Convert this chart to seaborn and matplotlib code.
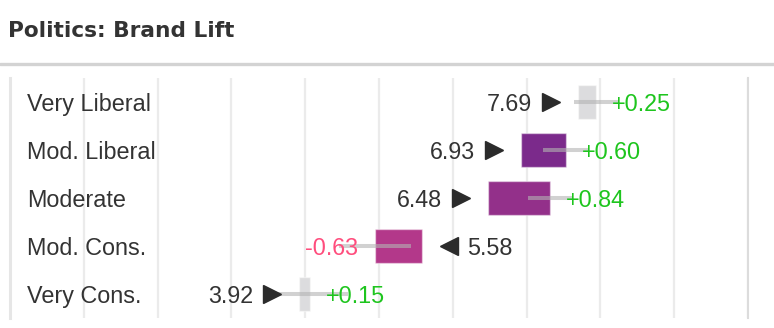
import numpy as np
import pandas as pd
import matplotlib
matplotlib.use("Agg")
import matplotlib.pyplot as plt
from matplotlib.lines import Line2D
from matplotlib.transforms import offset_copy
import seaborn as sns

# ---- data ----
categories = ["Very Liberal", "Mod. Liberal", "Moderate", "Mod. Cons.", "Very Cons."]
base_values = [7.69, 6.93, 6.48, 5.58, 3.92]
lift_values = [0.25, 0.60, 0.84, -0.63, 0.15]
error_values = [0.30, 0.31, 0.30, 0.49, 0.51]
bar_colors = ["#dcdcde", "#7b2a8b", "#93308a", "#b3388a", "#dcdcde"]
title = "Politics: Brand Lift"

sns.set_style("white")
plt.rcParams["font.family"] = ["Liberation Sans", "DejaVu Sans"]

W, H = 774, 328
fig = plt.figure(figsize=(W / 100, H / 100), dpi=100)
ax = fig.add_axes([10 / W, 10 / H, 738 / W, 240 / H])

base = np.array(base_values)
lift = np.array(lift_values)
err = np.array(error_values)
new = base + lift
starts = np.minimum(base, new)

df = pd.DataFrame({"category": categories, "size": np.abs(lift)})
sns.barplot(data=df, x="size", y="category", orient="y", order=categories,
            width=0.72, errorbar=None, ax=ax, left=starts, color="#888888",
            saturation=1, linewidth=1.0, edgecolor=(1, 1, 1, 0.45), zorder=2)
for patch, c in zip(ax.patches, bar_colors):
    patch.set_facecolor(c)

ypos = np.arange(len(categories))

# confidence lines
ax.hlines(ypos, new - err, new + err, color="#b3b3b3", alpha=0.6, lw=2.9, zorder=3)

dark = "#2b2b2b"
txt = "#333333"
fs = 16.8
for y, b, l, nv in zip(ypos, base, lift, new):
    up = l >= 0
    m = ">" if up else "<"
    tr = offset_copy(ax.transData, fig=fig, x=(-27 if up else 27), y=0, units="dots")
    ax.plot([b], [y], marker=m, markersize=12.3, color=dark, transform=tr,
            linestyle="none", zorder=4)
    ax.annotate(f"{b:.2f}", xy=(b, y), xytext=((-46 if up else 45), 0),
                textcoords="offset pixels", ha=("right" if up else "left"),
                va="center_baseline", fontsize=fs, color=txt, zorder=5)
    ax.annotate(f"{l:+.2f}", xy=(nv, y), xytext=((16 if up else -17), 0),
                textcoords="offset pixels", ha=("left" if up else "right"),
                va="center_baseline", fontsize=fs,
                color=("#1ec51e" if up else "#ff4d7d"), zorder=5)

ax.set_xlim(0, 10)
ax.set_ylim(len(categories) - 0.5, -0.5)
ax.set_xticks(range(0, 11))
ax.set_xticklabels([])
ax.tick_params(axis="x", length=0)
ax.grid(axis="x", color="#ebebeb", lw=1.6, zorder=0)
ax.set_axisbelow(True)
ax.set_xlabel("")
ax.set_ylabel("")

ax.tick_params(axis="y", length=0, pad=-12.3, labelsize=fs, labelcolor=txt)
for lab in ax.get_yticklabels():
    lab.set_ha("left")

for s in ["top", "bottom"]:
    ax.spines[s].set_visible(False)
ax.spines["left"].set_color("#e6e6e6")
ax.spines["left"].set_linewidth(2.2)
ax.spines["right"].set_color("#dcdcdc")
ax.spines["right"].set_linewidth(1.5)

fig.text(8 / W, 1 - 31 / H, title, fontsize=15.6, fontweight="bold",
         family=["DejaVu Sans"], color="#333333", va="center", ha="left")
fig.add_artist(Line2D([0, 1], [1 - 64 / H, 1 - 64 / H], transform=fig.transFigure,
                      color="#d3d3d3", lw=2.4))

fig.savefig("out.png", dpi=100)
